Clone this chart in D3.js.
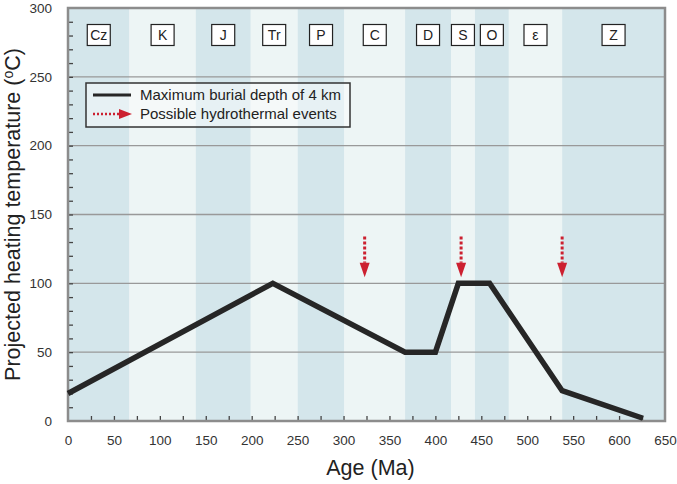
<!DOCTYPE html>
<html>
<head>
<meta charset="utf-8">
<script src="https://cdn.jsdelivr.net/npm/d3@7"></script>
<style>
  body { margin: 0; background: #fff; }
  svg { font-family: "Liberation Sans", Arial, sans-serif; }
</style>
</head>
<body>
<div id="chart"></div>
<script>
// geological periods and their boundaries (Ma), as drawn
const periods = ["Cz", "K", "J", "Tr", "P", "C", "D", "S", "O", "ε", "Z"];
const bounds = [0, 67, 139, 199, 250, 301, 367, 417, 443, 480, 538, 650];

// burial curve
const curveAge = [0, 223, 367, 400, 425, 459, 538, 626];
const curveTemp = [20, 100, 50, 50, 100, 100, 22, 2];

// hydrothermal events (Ma)
const eventAges = [323, 428, 538];

const xTicks = d3.range(0, 651, 50);
const yTicks = d3.range(0, 301, 50);

const W = 677, H = 484;
const margin = { top: 8, right: 12, bottom: 63, left: 68 };
const width = W - margin.left - margin.right,
    height = H - margin.top - margin.bottom;

const svg = d3.select("#chart").append("svg")
    .attr("width", W)
    .attr("height", H);

const g = svg.append("g")
    .attr("transform", `translate(${margin.left},${margin.top})`);

const x = d3.scaleLinear().domain([0, 650]).range([0, width]);
const y = d3.scaleLinear().domain([0, 300]).range([height, 0]);

// period bands
const bands = periods.map((p, i) => ({ name: p, from: bounds[i], to: bounds[i + 1], dark: i % 2 === 0 }));
g.append("g").selectAll("rect")
    .data(bands)
    .join("rect")
    .attr("x", d => x(d.from))
    .attr("y", 0)
    .attr("width", d => x(d.to) - x(d.from))
    .attr("height", height)
    .attr("fill", d => d.dark ? "#d4e6eb" : "#edf5f5");

// gridlines
g.append("g").selectAll("line")
    .data(yTicks.filter(t => t > 0 && t < 300))
    .join("line")
    .attr("x1", 0).attr("x2", width)
    .attr("y1", d => y(d)).attr("y2", d => y(d))
    .attr("stroke", "#999").attr("stroke-width", 1.3);

// period labels in boxes
const lab = g.append("g").selectAll("g")
    .data(bands)
    .join("g")
    .attr("transform", d => `translate(${x((d.from + d.to) / 2)},27)`);
lab.append("rect")
    .attr("x", -11.5).attr("y", -10.5)
    .attr("width", 23).attr("height", 21)
    .attr("fill", "#fff").attr("stroke", "#222").attr("stroke-width", 1.2);
lab.append("text")
    .attr("text-anchor", "middle")
    .attr("dy", "0.36em")
    .attr("font-size", 14)
    .attr("fill", "#222")
    .text(d => d.name);

// inner minor ticks
const xAxis = d3.axisBottom(x).tickValues(d3.range(25, 650, 25)).tickSize(-5).tickFormat("");
g.append("g").attr("transform", `translate(0,${height})`).call(xAxis)
    .call(a => a.select(".domain").remove())
    .call(a => a.selectAll("line").attr("stroke", "#444").attr("stroke-width", 1.3));
const yAxis = d3.axisLeft(y).tickValues(d3.range(10, 300, 10)).tickSize(-5).tickFormat("");
g.append("g").call(yAxis)
    .call(a => a.select(".domain").remove())
    .call(a => a.selectAll("line").attr("stroke", "#444").attr("stroke-width", 1.3));

// frame
g.append("rect")
    .attr("width", width).attr("height", height)
    .attr("fill", "none").attr("stroke", "#8c8c8c").attr("stroke-width", 2.5);

// tick labels
const xLab = d3.axisBottom(x).tickValues(xTicks).tickSize(0).tickPadding(14);
g.append("g").attr("transform", `translate(0,${height})`).call(xLab)
    .call(a => a.select(".domain").remove())
    .call(a => a.selectAll("text").attr("font-size", 13.5).attr("fill", "#333").attr("font-family", null));
const yLab = d3.axisLeft(y).tickValues(yTicks).tickSize(0).tickPadding(16);
g.append("g").call(yLab)
    .call(a => a.select(".domain").remove())
    .call(a => a.selectAll("text").attr("font-size", 13.5).attr("fill", "#333").attr("font-family", null));

// curve
const pts = curveAge.map((a, i) => [a, curveTemp[i]]);
g.append("path")
    .datum(pts)
    .attr("fill", "none")
    .attr("stroke", "#262626")
    .attr("stroke-width", 5.5)
    .attr("stroke-linejoin", "miter")
    .attr("d", d3.line().x(d => x(d[0])).y(d => y(d[1])));

// hydrothermal event arrows
const red = "#cc2030";
const ev = g.append("g").selectAll("g")
    .data(eventAges)
    .join("g")
    .attr("transform", d => `translate(${x(d)},0)`);
ev.append("line")
    .attr("y1", y(134)).attr("y2", y(115))
    .attr("stroke", red).attr("stroke-width", 3)
    .attr("stroke-dasharray", "3,2");
ev.append("path")
    .attr("d", `M-5,${y(115)}L5,${y(115)}L0,${y(104.5)}Z`)
    .attr("fill", red);

// legend
const lg = svg.append("g").attr("transform", "translate(86,83)");
lg.append("rect")
    .attr("width", 264).attr("height", 44)
    .attr("fill", "#fff").attr("fill-opacity", 0.45)
    .attr("stroke", "#333").attr("stroke-width", 1.5);
lg.append("line")
    .attr("x1", 7).attr("x2", 45).attr("y1", 12).attr("y2", 12)
    .attr("stroke", "#262626").attr("stroke-width", 3);
lg.append("line")
    .attr("x1", 7).attr("x2", 33).attr("y1", 31).attr("y2", 31)
    .attr("stroke", red).attr("stroke-width", 2.5)
    .attr("stroke-dasharray", "2,2");
lg.append("path")
    .attr("d", "M33,26L46,31L33,36Z")
    .attr("fill", red);
lg.append("text").attr("x", 54).attr("y", 12).attr("dy", "0.36em")
    .attr("font-size", 15).attr("fill", "#222")
    .text("Maximum burial depth of 4 km");
lg.append("text").attr("x", 54).attr("y", 31).attr("dy", "0.36em")
    .attr("font-size", 15).attr("fill", "#222")
    .text("Possible hydrothermal events");

// axis titles
svg.append("text")
    .attr("x", margin.left + width / 2 + 4).attr("y", 475)
    .attr("text-anchor", "middle")
    .attr("font-size", 21.5).attr("fill", "#222")
    .text("Age (Ma)");
const yt = svg.append("text")
    .attr("transform", `translate(20,${margin.top + height / 2}) rotate(-90)`)
    .attr("text-anchor", "middle")
    .attr("font-size", 21.5).attr("fill", "#222");
yt.append("tspan").text("Projected heating temperature (");
yt.append("tspan").attr("font-size", 14).attr("dy", -7).text("o");
yt.append("tspan").attr("dy", 7).text("C)");
</script>
</body>
</html>
